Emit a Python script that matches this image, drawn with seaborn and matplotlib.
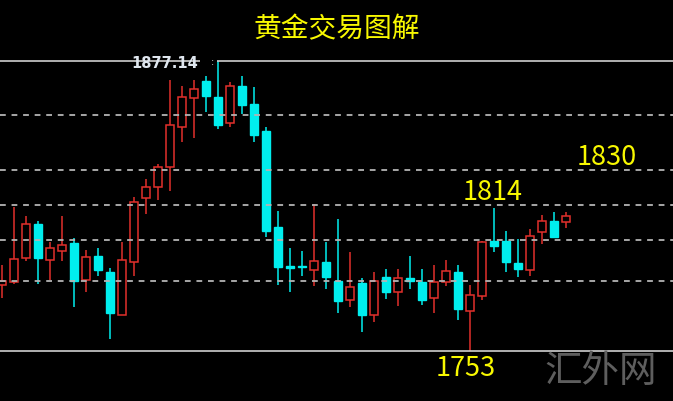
import matplotlib
matplotlib.use("Agg")
import matplotlib.pyplot as plt
import seaborn as sns
import numpy as np
import pandas as pd

# ---- data ----
opens = [1781.3, 1782.5, 1792.8, 1807.4, 1792.0, 1795.8, 1799.2, 1783.4, 1793.7, 1786.8,
         1768.4, 1791.1, 1818.5, 1823.2, 1831.8, 1848.9, 1861.3, 1868.6, 1861.7, 1850.6,
         1866.4, 1858.7, 1847.2, 1806.1, 1789.4, 1789.4, 1787.7, 1791.1, 1783.0, 1774.8,
         1782.1, 1768.4, 1784.7, 1778.3, 1784.2, 1782.5, 1775.7, 1782.5, 1786.8, 1770.1,
         1776.5, 1800.1, 1800.1, 1790.7, 1787.7, 1803.9, 1808.6, 1808.2]
highs = [1789.8, 1814.6, 1810.8, 1808.6, 1799.7, 1810.8, 1801.4, 1796.2, 1797.1, 1788.5,
         1799.7, 1818.9, 1826.6, 1833.0, 1869.0, 1866.4, 1869.0, 1870.7, 1877.14, 1868.1,
         1870.7, 1866.0, 1848.9, 1812.9, 1797.1, 1795.8, 1815.9, 1799.7, 1809.5, 1795.4,
         1784.2, 1786.8, 1788.1, 1788.1, 1793.7, 1788.1, 1789.8, 1792.0, 1789.8, 1781.3,
         1800.1, 1814.0, 1804.4, 1800.9, 1805.2, 1811.2, 1812.5, 1812.5]
lows = [1775.7, 1781.7, 1791.5, 1781.7, 1783.4, 1791.5, 1771.8, 1778.3, 1785.1, 1758.1,
        1768.4, 1785.1, 1811.6, 1817.6, 1821.5, 1842.5, 1844.2, 1855.3, 1848.0, 1848.9,
        1854.5, 1842.5, 1801.8, 1781.3, 1778.3, 1785.1, 1780.8, 1779.5, 1769.3, 1771.8,
        1761.1, 1765.4, 1775.3, 1772.3, 1779.5, 1772.7, 1769.3, 1780.8, 1766.3, 1753.0,
        1774.8, 1795.4, 1786.8, 1784.7, 1785.1, 1798.8, 1801.8, 1805.7]
closes = [1783.0, 1792.4, 1807.4, 1792.8, 1797.1, 1798.4, 1783.0, 1793.2, 1787.7, 1769.3,
          1792.0, 1816.8, 1823.2, 1831.8, 1849.7, 1861.7, 1865.2, 1862.2, 1849.7, 1866.4,
          1858.3, 1845.5, 1804.4, 1789.0, 1788.5, 1789.0, 1791.5, 1784.7, 1774.4, 1780.4,
          1768.4, 1783.0, 1778.3, 1784.2, 1783.0, 1774.8, 1782.5, 1787.2, 1771.0, 1777.0,
          1799.7, 1797.9, 1791.1, 1788.1, 1802.2, 1808.6, 1801.8, 1810.8]
grid_levels = [1854.0, 1830.5, 1815.5, 1800.5, 1783.0]
top_level = 1877.14
bottom_level = 1753.0
title = "黄金交易图解"
annotations = ["1830", "1814", "1753"]
top_label = "1877.14"
watermark = "汇外网"

df = pd.DataFrame({"open": opens, "high": highs, "low": lows, "close": closes})
df["idx"] = np.arange(len(df))
df["up"] = df["close"] >= df["open"]

# ---- style ----
sns.set_style("dark", rc={"axes.facecolor": "black", "figure.facecolor": "black"})
plt.rcParams["font.family"] = ["Noto Sans CJK SC", "DejaVu Sans"]

RED = "#e2302c"
CYAN = "#00eeee"

fig = plt.figure(figsize=(6.73, 4.02), dpi=100)
ax = fig.add_axes([0, 0, 1, 1])
ax.set_facecolor("black")

W = 0.62
up = df[df["up"]]
dn = df[~df["up"]]

# wicks
ax.vlines(up["idx"], up["low"], up["high"], color=RED, lw=1.1, zorder=2)
ax.vlines(dn["idx"], dn["low"], dn["high"], color=CYAN, lw=1.1, zorder=2)
# bodies
ax.bar(up["idx"], up["close"] - up["open"], bottom=up["open"], width=W,
       facecolor="black", edgecolor=RED, linewidth=1.1, zorder=3)
ax.bar(dn["idx"], dn["open"] - dn["close"], bottom=dn["close"], width=W,
       facecolor=CYAN, edgecolor=CYAN, linewidth=1.0, zorder=3)

# horizontal levels
for lv in grid_levels:
    ax.axhline(lv, color="#b4b4b4", lw=1.3, dashes=(3.2, 3.2), zorder=4)
ax.axhline(bottom_level, color="#cfcfcf", lw=1.2, zorder=4)

px2x = lambda px: (px - 2) / 12.0
ax.hlines(top_level, px2x(-5), px2x(200), color="#cfcfcf", lw=1.2, zorder=4)
ax.hlines(top_level, px2x(217), px2x(690), color="#cfcfcf", lw=1.2, zorder=4)

ax.set_xlim(px2x(0), px2x(673))
ymin = bottom_level - 50 * 0.42806
ymax = bottom_level + 352 * 0.42806
ax.set_ylim(ymin, ymax)
ax.set_xticks([])
ax.set_yticks([])
for s in ax.spines.values():
    s.set_visible(False)

def fxy(px, py):
    return px / 673.0, 1 - py / 402.0

fig.text(*fxy(337, 29), title, color="#f8f800", fontsize=20, ha="center", va="center")
pos = [(607, 158), (493, 192), (466, 369)]
for t, (px, py) in zip(annotations, pos):
    fig.text(*fxy(px, py), t, color="#f8f800", fontsize=19.5, ha="center", va="center")

fig.text(*fxy(165, 63), top_label, color="#dfe6ee", fontsize=10.5, fontweight="bold",
         family=["DejaVu Sans"], ha="center", va="center", zorder=5)
fig.text(*fxy(212, 62), ":", color="#cfcfcf", fontsize=7, ha="center", va="center",
         family=["DejaVu Sans"])

fig.text(*fxy(601, 372), watermark, color="#5e5e5e", fontsize=27, fontweight="light",
         ha="center", va="center")

fig.savefig("out.png", dpi=100, facecolor="black")
